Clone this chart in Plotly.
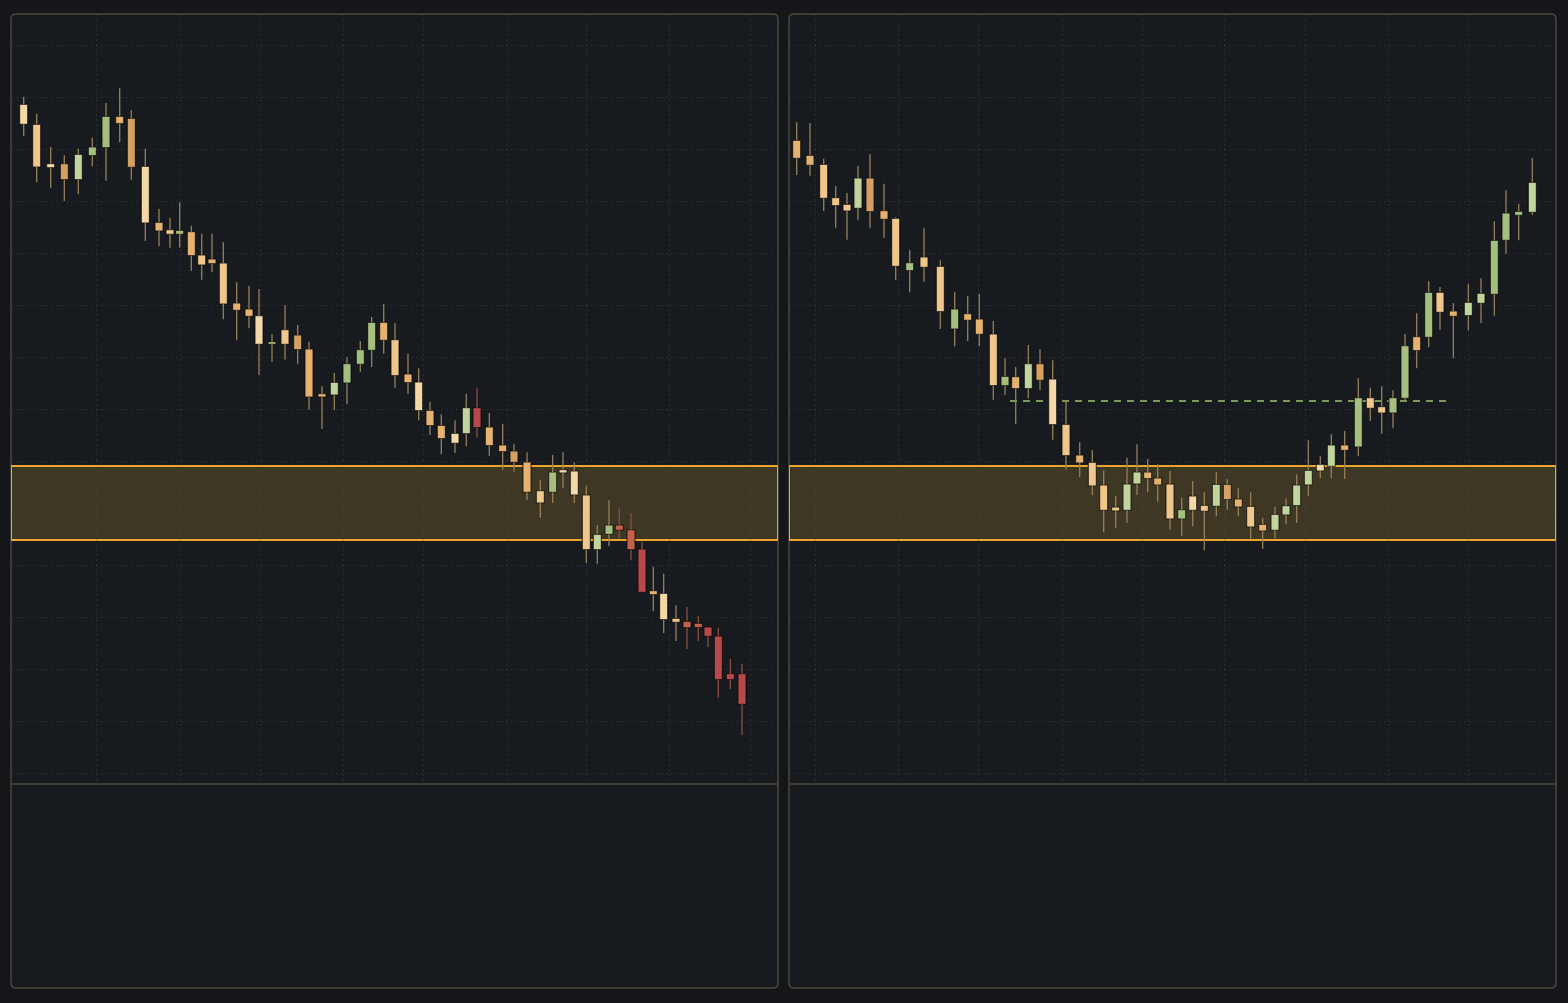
import plotly.graph_objects as go

W, H = 1568, 1003

# ---------------- data (price units, bar-time units) ----------------
left_x = [2.37, 3.67, 5.07, 6.43, 7.83, 9.23, 10.6, 11.97, 13.13, 14.53,
          15.9, 17.0, 17.97, 19.13, 20.17, 21.2, 22.33, 23.67, 24.9, 25.9,
          27.2, 28.5, 29.77, 30.9, 32.2, 33.43, 34.7, 36.03, 37.17, 38.37,
          39.5, 40.8, 41.87, 43.0, 44.13, 45.5, 46.63, 47.7, 48.93, 50.27,
          51.4, 52.7, 54.03, 55.27, 56.3, 57.43, 58.63, 59.73, 60.9, 61.93,
          63.1, 64.2, 65.33, 66.37, 67.6, 68.7, 69.83, 70.8, 71.83, 73.03, 74.2]
left_open = [89.57, 87.57, 83.63, 83.63, 82.03, 84.43, 85.23, 88.37, 88.17, 83.37,
             77.77, 77.03, 76.57, 76.83, 74.50, 74.10, 73.70, 69.70, 69.10, 68.43,
             65.57, 67.03, 66.50, 65.10, 60.63, 60.50, 61.70, 63.57, 64.97, 67.77,
             66.03, 62.60, 61.80, 58.97, 57.47, 56.67, 56.63, 59.23, 57.30, 55.50,
             54.90, 53.80, 50.93, 50.77, 53.03, 52.90, 50.50, 45.03, 46.57, 47.50,
             47.03, 45.10, 40.93, 40.67, 38.17, 37.87, 37.67, 37.30, 36.40, 32.63, 32.63]
left_high = [90.33, 88.63, 85.30, 84.47, 85.13, 86.23, 89.70, 91.17, 88.97, 85.13,
             79.10, 78.23, 79.77, 77.43, 76.63, 76.63, 75.77, 71.77, 71.43, 71.10,
             66.57, 69.50, 67.50, 65.83, 61.37, 62.70, 64.30, 65.90, 68.30, 69.63,
             67.70, 64.63, 63.17, 59.83, 58.57, 57.97, 60.63, 61.23, 58.70, 57.63,
             55.63, 54.77, 51.97, 54.50, 54.77, 53.77, 51.43, 47.50, 49.97, 49.17,
             48.70, 45.83, 43.33, 42.63, 39.47, 39.30, 38.37, 37.30, 37.23, 34.10, 33.63]
left_low = [86.40, 81.77, 81.23, 79.90, 80.57, 83.37, 81.93, 85.77, 82.03, 75.90,
            75.37, 75.23, 75.23, 72.90, 72.03, 72.77, 68.07, 65.97, 67.17, 62.50,
            63.83, 64.03, 63.63, 59.03, 57.10, 58.97, 59.57, 62.83, 63.30, 64.63,
            61.23, 60.63, 57.97, 56.50, 54.57, 54.70, 55.37, 56.23, 54.43, 53.03,
            52.83, 49.97, 48.23, 49.70, 51.23, 49.70, 43.70, 43.63, 45.37, 46.10,
            43.97, 40.77, 38.90, 36.70, 35.90, 35.10, 35.90, 35.30, 30.23, 31.10, 26.50]
left_close = [87.57, 83.30, 83.23, 82.03, 84.57, 85.30, 88.37, 87.63, 83.27, 77.70,
              76.90, 76.57, 76.97, 74.43, 73.50, 73.63, 69.60, 68.97, 68.37, 65.57,
              65.83, 65.57, 65.03, 60.30, 60.30, 61.77, 63.63, 65.03, 67.77, 65.97,
              62.43, 61.73, 58.93, 57.43, 56.13, 55.67, 59.23, 57.23, 55.43, 54.83,
              53.77, 50.77, 49.70, 52.80, 52.70, 50.50, 45.03, 46.57, 47.50, 46.97,
              45.03, 40.77, 40.53, 38.03, 37.77, 37.23, 37.23, 36.37, 32.03, 32.03, 29.57]
left_tone = list("clcdGggodc" "olgololooc" "gldooGgggo" "locoocGroo" "dolgcclGgR" "RroclRRrrrr")

right_x = [1.87, 3.2, 4.57, 5.77, 6.9, 8.0, 9.2, 10.6, 11.77, 13.17,
           14.6, 16.23, 17.67, 18.97, 20.13, 21.53, 22.7, 23.77, 25.03, 26.2,
           27.47, 28.8, 30.17, 31.43, 32.57, 33.77, 34.9, 35.9, 36.97, 37.97,
           39.2, 40.37, 41.47, 42.63, 43.83, 44.93, 46.03, 47.27, 48.47, 49.7,
           50.8, 51.87, 53.03, 54.23, 55.33, 56.67, 58.03, 59.23, 60.37, 61.5,
           62.7, 63.87, 65.07, 66.2, 67.53, 69.03, 70.3, 71.63, 72.8, 74.07, 75.43]
right_open = [85.97, 84.47, 83.57, 80.23, 79.57, 79.17, 82.20, 78.93, 78.17, 72.93,
              74.30, 73.37, 67.10, 68.63, 68.10, 66.60, 61.43, 62.33, 61.13, 63.63,
              62.10, 57.57, 54.50, 53.77, 51.50, 49.30, 48.97, 51.60, 52.80, 52.20,
              51.60, 48.10, 50.40, 49.47, 49.37, 51.57, 50.10, 49.37, 47.57, 46.97,
              48.50, 49.43, 51.50, 52.90, 53.37, 55.50, 55.30, 60.23, 59.33, 58.70,
              60.17, 66.33, 66.27, 70.77, 68.90, 68.43, 69.67, 70.57, 75.97, 78.47, 78.77]
right_high = [87.77, 87.70, 84.13, 81.40, 80.70, 83.40, 84.60, 81.63, 78.27, 75.00,
              77.23, 73.97, 70.77, 70.40, 70.63, 67.90, 64.17, 63.30, 65.50, 65.10,
              63.97, 60.03, 55.77, 54.97, 52.97, 50.40, 54.23, 55.57, 54.10, 53.57,
              52.90, 50.23, 51.90, 50.77, 52.77, 52.10, 51.17, 50.77, 48.23, 49.30,
              50.17, 52.57, 55.97, 54.37, 56.57, 56.90, 62.17, 61.23, 61.37, 60.97,
              66.60, 68.67, 71.87, 71.30, 69.70, 71.63, 72.17, 77.87, 80.97, 79.63, 84.20]
right_low = [82.50, 82.43, 78.90, 77.23, 76.03, 78.03, 77.23, 76.20, 71.97, 70.77,
             71.83, 67.10, 65.37, 65.90, 65.37, 60.03, 60.50, 57.57, 60.17, 60.97,
             56.03, 53.03, 52.30, 50.50, 46.77, 47.23, 47.70, 50.50, 50.77, 49.83,
             47.03, 46.43, 47.37, 44.97, 48.37, 49.03, 48.37, 46.10, 45.10, 46.17,
             47.57, 47.70, 50.43, 52.17, 52.17, 52.10, 54.37, 57.90, 56.63, 57.17,
             59.90, 63.17, 65.27, 67.03, 64.17, 66.97, 67.70, 68.43, 74.63, 75.97, 78.50]
right_close = [84.17, 83.47, 80.17, 79.43, 78.90, 82.20, 78.83, 78.07, 73.37, 73.73,
               73.27, 68.83, 69.10, 67.97, 66.57, 61.43, 62.37, 61.13, 63.63, 61.97,
               57.53, 54.43, 53.70, 51.40, 48.97, 48.90, 51.60, 52.80, 52.13, 51.50,
               48.10, 49.03, 48.97, 48.87, 51.57, 50.03, 49.30, 47.30, 46.90, 48.57,
               49.43, 51.50, 52.97, 53.57, 55.50, 54.97, 60.23, 59.17, 58.70, 60.23,
               65.43, 64.93, 70.77, 68.77, 68.37, 69.77, 70.67, 75.97, 78.70, 78.87, 81.77]
right_tone = list("oolllGdolg" "llgoolgoGd" "clolllGGoo" "lgclGdoloG" "GGGcGogllg" "gogloGGgggG")

# zone and level
zone_low, zone_high = 46.0, 53.4
level_value = 59.9
level_start, level_end = 23.2, 67.2

# grid positions
left_grid_x = [9.6, 18.0, 26.0, 34.3, 42.3, 50.7, 58.6, 66.9, 75.0]
right_grid_x = [3.7, 12.0, 20.0, 28.4, 36.4, 44.6, 52.7, 61.0, 69.0]
grid_y0, grid_dy = 22.7, 5.2
y_range = [21.6, 98.6]
x_range = [1.1, 77.8]

# ---------------- style ----------------
TONE = {
    "c": "#f4d8a8", "l": "#efc68b", "o": "#e6b270", "d": "#d5a062",
    "g": "#a7bf7e", "G": "#c1d49c", "r": "#b7494a", "R": "#c2624b",
}
WICK = "#95805a"
WICK_RED = "#8c4f40"
PAPER = "#141619"
PANEL = "#171a1e"
FRAME = "#4e4737"
GRID = "rgba(85,88,94,0.32)"
ZONE_FILL = "rgba(205,160,60,0.22)"
ZONE_LINE = "#eca42c"

fig = go.Figure()


def add_panel(xs, o, h, l, c, tones, xa, ya):
    for red in (False, True):
        wx, wy = [], []
        for xi, oi, hi, li, ci, t in zip(xs, o, h, l, c, tones):
            if (t in "rR") != red:
                continue
            top, bot = max(oi, ci), min(oi, ci)
            wx += [xi, xi, None, xi, xi, None]
            wy += [hi, top, None, bot, li, None]
        fig.add_trace(go.Scatter(
            x=wx, y=wy, mode="lines", xaxis=xa, yaxis=ya,
            line=dict(color=WICK_RED if red else WICK, width=1.3),
            hoverinfo="skip", showlegend=False))
    fig.add_trace(go.Bar(
        x=xs, base=[min(a, b) for a, b in zip(o, c)],
        y=[max(abs(b - a), 0.15) for a, b in zip(o, c)],
        width=0.8, xaxis=xa, yaxis=ya,
        marker=dict(color=[TONE[t] for t in tones],
                    line=dict(color="rgba(8,9,11,0.8)", width=1)),
        showlegend=False, hoverinfo="skip"))


add_panel(left_x, left_open, left_high, left_low, left_close, left_tone, "x", "y")
add_panel(right_x, right_open, right_high, right_low, right_close, right_tone, "x2", "y2")

# geometry (pixels -> paper)
panels = [(11, 778), (789, 1556)]
top_px, sep_px, bot_px = 14, 784, 988


def px(xp):
    return xp / W


def py(yp):
    return 1 - yp / H


shapes = []
for (x0p, x1p) in panels:
    r = 5
    X0, X1 = px(x0p), px(x1p)
    Y0, Y1 = py(bot_px), py(top_px)
    rx, ry = r / W, r / H
    path = (f"M {X0+rx},{Y1} L {X1-rx},{Y1} Q {X1},{Y1} {X1},{Y1-ry} "
            f"L {X1},{Y0+ry} Q {X1},{Y0} {X1-rx},{Y0} L {X0+rx},{Y0} "
            f"Q {X0},{Y0} {X0},{Y0+ry} L {X0},{Y1-ry} Q {X0},{Y1} {X0+rx},{Y1} Z")
    shapes.append(dict(type="path", path=path, xref="paper", yref="paper",
                       fillcolor=PANEL, line=dict(color=FRAME, width=1.5), layer="below"))
    shapes.append(dict(type="line", xref="paper", yref="paper", x0=X0, x1=X1,
                       y0=py(sep_px), y1=py(sep_px), line=dict(color=FRAME, width=1.5),
                       layer="above"))

for xa, ya in (("x", "y"), ("x2", "y2")):
    shapes.append(dict(type="rect", xref=xa, yref=ya, x0=x_range[0], x1=x_range[1],
                       y0=zone_low, y1=zone_high, fillcolor=ZONE_FILL,
                       line=dict(color=ZONE_LINE, width=2), layer="below"))

shapes.append(dict(type="line", xref="x2", yref="y2", x0=level_start, x1=level_end,
                   y0=level_value, y1=level_value,
                   line=dict(color="#7a9a5a", width=2, dash="7px,6px"), layer="below"))

axis_common = dict(showticklabels=False, zeroline=False, showline=False, ticks="",
                   showgrid=True, gridcolor=GRID, gridwidth=1, griddash="2px,3px",
                   fixedrange=True)

fig.update_layout(
    width=W, height=H, margin=dict(l=0, r=0, t=0, b=0),
    paper_bgcolor=PAPER, plot_bgcolor="rgba(0,0,0,0)",
    barmode="overlay", showlegend=False, shapes=shapes,
    xaxis=dict(domain=[px(11), px(778)], range=x_range, tickmode="array",
               tickvals=left_grid_x, anchor="y", **axis_common),
    xaxis2=dict(domain=[px(789), px(1556)], range=x_range, tickmode="array",
                tickvals=right_grid_x, anchor="y2", **axis_common),
    yaxis=dict(domain=[py(sep_px), py(top_px)], range=y_range, tick0=grid_y0,
               dtick=grid_dy, anchor="x", **axis_common),
    yaxis2=dict(domain=[py(sep_px), py(top_px)], range=y_range, tick0=grid_y0,
                dtick=grid_dy, anchor="x2", **axis_common),
)

fig.write_html("out.html", config={"displayModeBar": False},
               post_script="document.body.style.margin='0';document.body.style.overflow='hidden';")
